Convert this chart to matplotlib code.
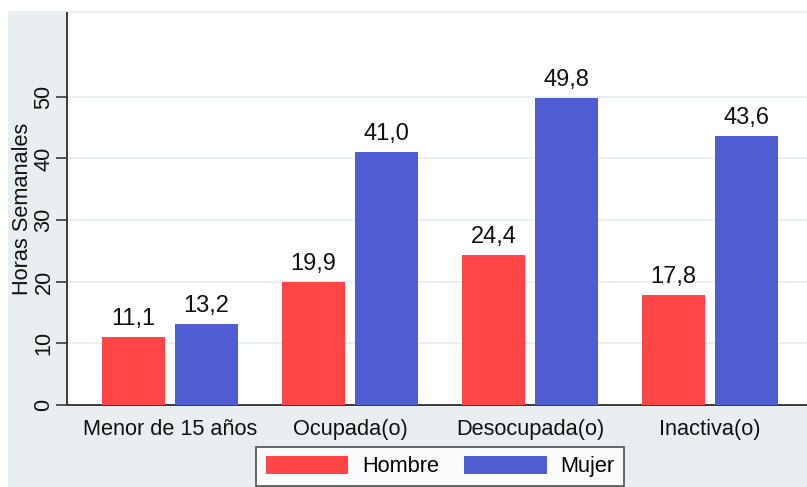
import matplotlib
matplotlib.use("Agg")
import matplotlib.pyplot as plt
from matplotlib.patches import Rectangle, Patch
import numpy as np

plt.rcParams['font.family'] = ['Liberation Sans', 'DejaVu Sans']

categories = ["Menor de 15 años", "Ocupada(o)", "Desocupada(o)", "Inactiva(o)"]
hombre = [11.1, 19.9, 24.4, 17.8]
mujer = [13.2, 41.0, 49.8, 43.6]
series_names = ["Hombre", "Mujer"]
y_ticks = [0, 10, 20, 30, 40, 50]
y_label = "Horas Semanales"

RED = "#FF4646"
BLUE = "#505CD2"
BG = "#E9EFF1"
GRID = "#E6EFF1"
AXC = "#3A3A3A"
TXT = "#111111"
FS = 15.7

W, H = 807, 487
fig = plt.figure(figsize=(W / 100, H / 100), dpi=100, facecolor="white")

# light graph region behind the plot
fig.patches.append(Rectangle((8 / W, 0), 1 - 8 / W, (H - 11) / H,
                             transform=fig.transFigure, facecolor=BG,
                             edgecolor="none", zorder=-10))

left, right = 67 / W, 813 / W
bottom, top = (H - 405) / H, (H - 13) / H
ax = fig.add_axes([left, bottom, right - left, top - bottom])
ax.set_facecolor("white")

x = np.arange(len(categories))
bw = 63 / 180
off = 36.5 / 180
b1 = ax.bar(x - off, hombre, width=bw, color=RED, zorder=3)
b2 = ax.bar(x + off, mujer, width=bw, color=BLUE, zorder=3)

fmt = lambda vals: [f"{v:.1f}".replace(".", ",") for v in vals]
ax.bar_label(b1, labels=fmt(hombre), padding=5, fontsize=17, color=TXT)
ax.bar_label(b2, labels=fmt(mujer), padding=5, fontsize=17, color=TXT)

ax.set_xlim(-0.572, 3.572)
ax.set_ylim(0, 63.6)
ax.set_yticks(y_ticks)
ax.set_yticklabels([str(t) for t in y_ticks], rotation=90, va="center",
                   fontsize=FS, color=TXT)
ax.set_xticks(x)
ax.set_xticklabels(categories, fontsize=FS, color=TXT)
ax.tick_params(axis="x", length=0, pad=10)
ax.tick_params(axis="y", length=8, width=1.2, color=AXC, pad=1)
ax.set_ylabel(y_label, fontsize=FS, color=TXT, labelpad=0)

ax.grid(axis="y", color=GRID, linewidth=1.2, zorder=0)
ax.set_axisbelow(True)
for s in ["top", "right"]:
    ax.spines[s].set_visible(False)
for s in ["left", "bottom"]:
    ax.spines[s].set_color(AXC)
    ax.spines[s].set_linewidth(1.4)

handles = [Patch(facecolor=RED, edgecolor="none"),
           Patch(facecolor=BLUE, edgecolor="none")]
leg = fig.legend(handles, series_names, loc="center", ncol=2,
                 bbox_to_anchor=(440 / W, 1 - 466.5 / H),
                 bbox_transform=fig.transFigure,
                 fontsize=FS, handlelength=3.8, handleheight=0.9,
                 handletextpad=0.62, columnspacing=1.15, borderpad=0.42,
                 fancybox=False, frameon=True, borderaxespad=0)
leg.get_frame().set_edgecolor("#222222")
leg.get_frame().set_linewidth(1.2)
leg.get_frame().set_facecolor("white")

fig.savefig("out.png", dpi=100, facecolor=fig.get_facecolor())
